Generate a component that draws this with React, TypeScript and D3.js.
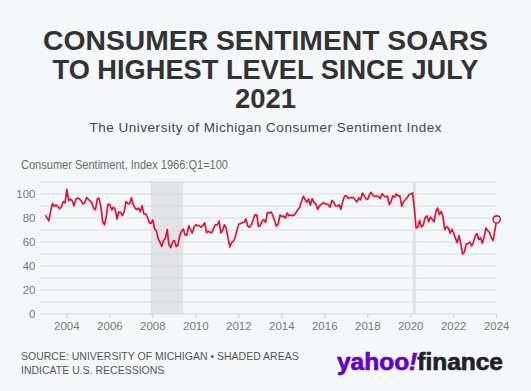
import React from 'react';
import * as d3 from 'd3';

const titleLines = ['CONSUMER SENTIMENT SOARS', 'TO HIGHEST LEVEL SINCE JULY', '2021'];
const titleWidths = [445, 426, 61];
const subtitle = 'The University of Michigan Consumer Sentiment Index';
const axisTitle = 'Consumer Sentiment, Index 1966:Q1=100';
const sourceLines = ['SOURCE: UNIVERSITY OF MICHIGAN \u2022 SHADED AREAS', 'INDICATE U.S. RECESSIONS'];

const firstMonth = '2003-01';
// Monthly index values, Jan 2003 - Jan 2024
const sentiment2003 = [82.4, 79.9, 77.6, 86.0, 92.1, 89.7, 90.9, 89.3, 87.7, 89.6, 93.7, 92.6];
const sentiment2004 = [103.8, 94.4, 95.8, 94.2, 90.2, 95.6, 96.7, 95.9, 94.2, 91.7, 92.8, 97.1];
const sentiment2005 = [95.5, 94.1, 92.6, 87.7, 86.9, 96.0, 96.5, 89.1, 76.9, 74.2, 81.6, 91.5];
const sentiment2006 = [91.2, 86.7, 88.9, 87.4, 79.1, 84.9, 84.7, 82.0, 85.4, 93.6, 92.1, 91.7];
const sentiment2007 = [96.9, 91.3, 88.4, 87.1, 88.3, 85.3, 90.4, 83.4, 83.4, 80.9, 76.1, 75.5];
const sentiment2008 = [78.4, 70.8, 69.5, 62.6, 59.8, 56.4, 61.2, 63.0, 70.3, 57.6, 55.3, 60.1];
const sentiment2009 = [61.2, 56.3, 57.3, 65.1, 68.7, 70.8, 66.0, 65.7, 73.5, 70.6, 67.4, 72.5];
const sentiment2010 = [74.4, 73.6, 73.6, 72.2, 73.6, 76.0, 67.8, 68.9, 68.2, 67.7, 71.6, 74.5];
const sentiment2011 = [74.2, 77.5, 67.5, 69.8, 74.3, 71.5, 63.7, 55.8, 59.5, 60.8, 63.7, 69.9];
const sentiment2012 = [75.0, 75.3, 76.2, 76.4, 79.3, 73.2, 72.3, 74.3, 78.3, 82.6, 82.7, 72.9];
const sentiment2013 = [73.8, 77.6, 78.6, 76.4, 84.5, 84.1, 85.1, 82.1, 77.5, 73.2, 75.1, 82.5];
const sentiment2014 = [81.2, 81.6, 80.0, 84.1, 81.9, 82.5, 81.8, 82.5, 84.6, 86.9, 88.8, 93.6];
const sentiment2015 = [98.1, 95.4, 93.0, 95.9, 90.7, 96.1, 93.1, 91.9, 87.2, 90.0, 91.3, 92.6];
const sentiment2016 = [92.0, 91.7, 91.0, 89.0, 94.7, 93.5, 90.0, 89.8, 91.2, 87.2, 93.8, 98.2];
const sentiment2017 = [98.5, 96.3, 96.9, 97.0, 97.1, 95.0, 93.4, 96.8, 95.1, 100.7, 98.5, 95.9];
const sentiment2018 = [95.7, 99.7, 101.4, 98.8, 98.0, 98.2, 97.9, 96.2, 100.1, 98.6, 97.5, 98.3];
const sentiment2019 = [91.2, 93.8, 98.4, 97.2, 100.0, 98.2, 98.4, 89.8, 93.2, 95.5, 96.8, 99.3];
const sentiment2020 = [99.8, 101.0, 89.1, 71.8, 72.3, 78.1, 72.5, 74.1, 80.4, 81.8, 76.9, 80.7];
const sentiment2021 = [79.0, 76.8, 84.9, 88.3, 82.9, 85.5, 81.2, 70.3, 72.8, 71.7, 67.4, 70.6];
const sentiment2022 = [67.2, 62.8, 59.4, 65.2, 58.4, 50.0, 51.5, 58.2, 58.6, 59.9, 56.8, 59.7];
const sentiment2023 = [64.9, 67.0, 62.0, 63.7, 59.0, 64.2, 71.6, 69.5, 67.9, 63.8, 61.3, 69.7];
const sentiment2024 = [78.8];

const sentiment = [
  ...sentiment2003, ...sentiment2004, ...sentiment2005, ...sentiment2006, ...sentiment2007,
  ...sentiment2008, ...sentiment2009, ...sentiment2010, ...sentiment2011, ...sentiment2012,
  ...sentiment2013, ...sentiment2014, ...sentiment2015, ...sentiment2016, ...sentiment2017,
  ...sentiment2018, ...sentiment2019, ...sentiment2020, ...sentiment2021, ...sentiment2022,
  ...sentiment2023, ...sentiment2024,
];

const recessions: [string, string][] = [['2007-12', '2009-06'], ['2020-02', '2020-04']];
const xDomain: [string, string] = ['2002-10', '2024-01'];
const yTicks = [0, 20, 40, 60, 80, 100];
const gridValues = [0, 10, 20, 30, 40, 50, 60, 70, 80, 90, 100, 110];
const xTickYears = [2004, 2006, 2008, 2010, 2012, 2014, 2016, 2018, 2020, 2022, 2024];

const W = 531;
const H = 391;
const BG = '#f5f8fb';
const RED = '#dc1533';
const NARROW = '"Liberation Sans Narrow", "Liberation Sans", Arial, sans-serif';
const SANS = '"Liberation Sans", Arial, sans-serif';

export default function App() {
  const parse = d3.timeParse('%Y-%m');
  const start = parse(firstMonth) as Date;
  const points = sentiment.map((v, i) => ({ date: d3.timeMonth.offset(start, i), value: v }));

  const x = d3.scaleTime()
    .domain([parse(xDomain[0]) as Date, parse(xDomain[1]) as Date])
    .range([40, 496.7]);
  const y = d3.scaleLinear().domain([0, 110]).range([314, 182]);

  const line = d3.line<{ date: Date; value: number }>()
    .x(d => x(d.date))
    .y(d => y(d.value))
    .curve(d3.curveLinear);

  const last = points[points.length - 1];

  return (
    <div style={{ position: 'absolute', left: 0, top: 0 }}>
      <svg width={W} height={H} viewBox={`0 0 ${W} ${H}`} style={{ display: 'block' }}>
        <rect x={0} y={0} width={W} height={H} fill={BG} />

        {titleLines.map((t, i) => (
          <text
            key={t}
            x={W / 2}
            y={49.5 + i * 29.4}
            textAnchor="middle"
            fontFamily={SANS}
            fontWeight={700}
            fontSize={28}
            fill="#333333"
            textLength={titleWidths[i]}
            lengthAdjust="spacingAndGlyphs"
          >
            {t}
          </text>
        ))}
        <text
          x={W / 2}
          y={132}
          textAnchor="middle"
          fontFamily={SANS}
          fontSize={13.5}
          fill="#454545"
          textLength={352}
          lengthAdjust="spacing"
        >
          {subtitle}
        </text>

        <text
          x={21}
          y={169}
          fontFamily={NARROW}
          fontSize={13}
          fill="#6b6b6b"
          textLength={207}
          lengthAdjust="spacingAndGlyphs"
        >
          {axisTitle}
        </text>

        {recessions.map(([a, b]) => {
          const x0 = x(parse(a) as Date);
          const x1 = x(parse(b) as Date);
          return (
            <rect key={a} x={x0} y={y(110)} width={x1 - x0} height={y(0) - y(110)} fill="#e1e3e6" />
          );
        })}

        {gridValues.map(v => (
          <line key={v} x1={40} x2={496.7} y1={y(v)} y2={y(v)} stroke="#d9dcdf" strokeWidth={1} />
        ))}

        {yTicks.map(v => (
          <text
            key={v}
            x={35.5}
            y={y(v) + 4}
            textAnchor="end"
            fontFamily={NARROW}
            fontSize={11.5}
            fill="#777777"
          >
            {v}
          </text>
        ))}

        {xTickYears.map(yr => {
          const xp = x(new Date(yr, 0, 1));
          return (
            <g key={yr}>
              <line x1={xp} x2={xp} y1={314} y2={318} stroke="#d0d3d6" strokeWidth={1} />
              <text
                x={xp}
                y={330}
                textAnchor="middle"
                fontFamily={NARROW}
                fontSize={11.5}
                fill="#777777"
              >
                {yr}
              </text>
            </g>
          );
        })}

        <path d={line(points) || ''} fill="none" stroke={RED} strokeWidth={1.7} strokeLinejoin="round" />
        <circle cx={x(last.date)} cy={y(last.value)} r={3.6} fill="#ffffff" stroke={RED} strokeWidth={1.6} />

        {sourceLines.map((t, i) => (
          <text
            key={t}
            x={21}
            y={360 + i * 14}
            fontFamily={SANS}
            fontSize={10.5}
            fill="#555555"
          >
            {t}
          </text>
        ))}

        <text
          x={337}
          y={369.5}
          fontFamily={SANS}
          fontWeight={700}
          fontSize={24}
          textLength={166}
          lengthAdjust="spacingAndGlyphs"
          strokeWidth={0.7}
        >
          <tspan fill="#6001d2" stroke="#6001d2">yahoo</tspan>
          <tspan fill="#6001d2" stroke="#6001d2" fontStyle="italic">!</tspan>
          <tspan fill="#1d2228" stroke="#1d2228">finance</tspan>
        </text>
      </svg>
    </div>
  );
}
